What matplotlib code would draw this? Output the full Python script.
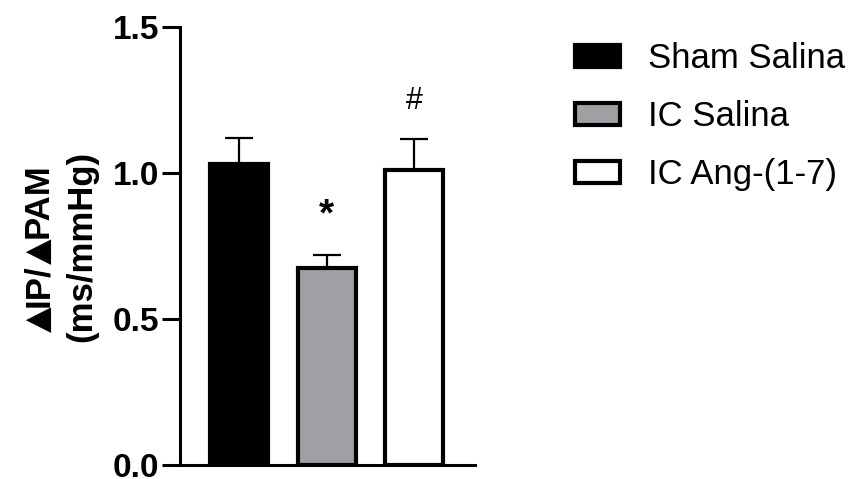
import matplotlib
matplotlib.use("Agg")
import matplotlib.pyplot as plt
from matplotlib.patches import Patch
from matplotlib.transforms import IdentityTransform

plt.rcParams['font.family'] = ['Liberation Sans', 'DejaVu Sans']

# data
groups = ["Sham Salina", "IC Salina", "IC Ang-(1-7)"]
means = [1.03, 0.675, 1.01]
sems = [0.09, 0.043, 0.105]
colors = ["#000000", "#a0a0a4", "#ffffff"]
marks = ["", "*", "#"]
mark_y = [0.0, 0.855, 1.245]
yticks = [0.0, 0.5, 1.0, 1.5]
ylabel_top = [("\u25b2", "DejaVu Sans"), ("IP/", "Liberation Sans"),
              ("\u25b2", "DejaVu Sans"), ("PAM", "Liberation Sans")]
ylabel_bottom = "(ms/mmHg)"

W, H = 853, 479
fig = plt.figure(figsize=(W / 100, H / 100), dpi=100)
ax = fig.add_axes([180 / W, 14 / H, 295 / W, 438 / H])

x = list(range(len(groups)))
ax.bar(x, means, width=0.66, color=colors, edgecolor="black", linewidth=3.0,
       zorder=2)
ax.errorbar(x, means, yerr=[[0] * len(sems), sems], fmt="none", ecolor="black",
            elinewidth=1.6, capsize=10, capthick=1.6, zorder=1)

for xi, m, my in zip(x, marks, mark_y):
    if not m:
        continue
    if m == "*":
        ax.text(xi, my, m, ha="center", va="center", fontsize=28,
                fontweight="bold")
    else:
        ax.text(xi, my, m, ha="center", va="center", fontsize=22)

ax.set_xlim(-0.67, 2.69)
ax.set_ylim(0, 1.5)
ax.set_yticks(yticks)
ax.set_yticklabels([f"{t:.1f}" for t in yticks], fontsize=24, fontweight="bold")
ax.set_xticks([])
for s in ["top", "right"]:
    ax.spines[s].set_visible(False)
for s in ["left", "bottom"]:
    ax.spines[s].set_linewidth(2.2)
ax.tick_params(axis="y", length=13, width=2.2, pad=2)

# y label, first line built from pieces so the triangles get a bigger glyph
renderer = fig.canvas.get_renderer()
pieces = []
for s, fam in ylabel_top:
    size = 24 if fam == "DejaVu Sans" else 25
    t = fig.text(0, 0, s, rotation=90, rotation_mode="anchor", ha="left",
                 va="baseline", fontsize=size, fontweight="bold", family=fam,
                 transform=IdentityTransform())
    pieces.append(t)
lengths = [t.get_window_extent(renderer).height for t in pieces]
ypos = (H - 248) - sum(lengths) / 2
for t, ln in zip(pieces, lengths):
    t.set_position((48, ypos))
    ypos += ln

fig.text(91, H - 246, ylabel_bottom, rotation=90, rotation_mode="anchor",
         ha="center", va="baseline", fontsize=25, fontweight="bold",
         transform=IdentityTransform())

handles = [Patch(facecolor=c, edgecolor="black", linewidth=3.0) for c in colors]
fig.legend(handles, groups, loc="upper left", bbox_to_anchor=(575 / W, 1 - 42 / H),
           frameon=False, fontsize=25, handlelength=1.3, handleheight=0.58,
           labelspacing=0.72, handletextpad=0.8, borderpad=0, borderaxespad=0)

fig.savefig("out.png", dpi=100)
